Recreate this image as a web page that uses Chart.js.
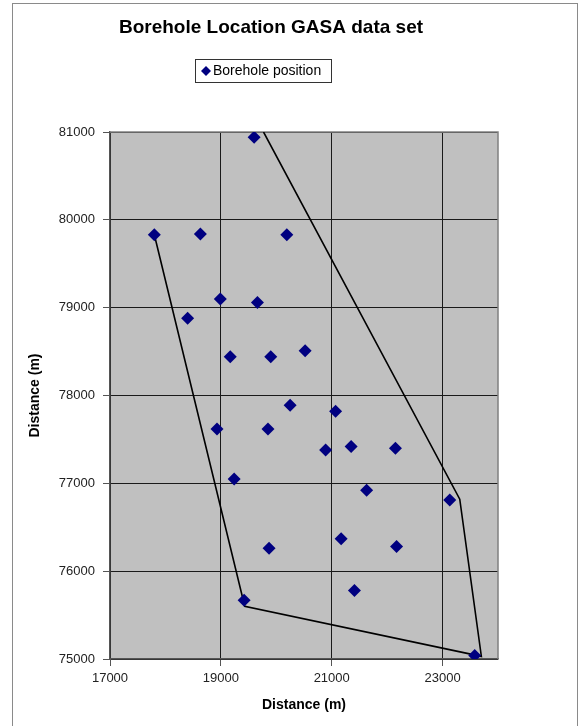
<!DOCTYPE html>
<html>
<head>
<meta charset="utf-8">
<script src="https://cdn.jsdelivr.net/npm/chart.js@4.4.1/dist/chart.umd.min.js"></script>
<style>
  body { margin: 0; background: #fff; }
  #frame { position: absolute; left: 12px; top: 3px; width: 564px; height: 730px; border: 1px solid #8a8a8a; }
  #chart { position: absolute; left: 0; top: 0; }
</style>
</head>
<body>
<div id="frame"><canvas id="chart" width="520" height="722"></canvas></div>
<script>
  // borehole positions (easting / northing, metres)
  const EASTING = [19600, 17800, 18630, 20190, 18990, 19660, 18400, 19170, 19900, 20520,
                   20250, 21070, 18930, 19850, 20890, 21350, 22150, 19240, 21630, 23130,
                   21170, 22170, 19870, 21410, 19420, 23580];
  const NORTHING = [80940, 79830, 79840, 79830, 79100, 79060, 78880, 78440, 78440, 78510,
                    77890, 77820, 77620, 77620, 77380, 77420, 77400, 77050, 76920, 76810,
                    76370, 76280, 76260, 75780, 75670, 75040];

  // outline drawn round the boreholes
  const OUTLINE_X = [19770, 23310, 23700, 19430, 17800];
  const OUTLINE_Y = [81000, 76820, 75030, 75600, 79830];

  const X_TICKS = [17000, 19000, 21000, 23000];
  const CHART_TITLE = "Borehole Location GASA data set";
  const SERIES_NAME = "Borehole position";
  const AXIS_NAME = "Distance (m)";

  Chart.defaults.font.family = '"Liberation Sans", Arial, sans-serif';

  const toPoints = (xs, ys) => xs.map((x, i) => ({ x: x, y: ys[i] }));

  // grey plot area with grey frame on top/right, like the Excel original
  const plotArea = {
    id: "plotArea",
    beforeDraw(chart) {
      const { ctx, chartArea: a } = chart;
      ctx.save();
      ctx.fillStyle = "#c0c0c0";
      ctx.fillRect(a.left, a.top, a.right - a.left, a.bottom - a.top);
      ctx.restore();
    },
    beforeDatasetsDraw(chart) {
      const { ctx, chartArea: a } = chart;
      ctx.save();
      ctx.strokeStyle = "#808080";
      ctx.lineWidth = 1.5;
      ctx.beginPath();
      ctx.moveTo(a.left, a.top);
      ctx.lineTo(a.right, a.top);
      ctx.lineTo(a.right, a.bottom);
      ctx.stroke();
      ctx.restore();
    }
  };

  // title + boxed legend
  const header = {
    id: "header",
    afterDraw(chart) {
      const ctx = chart.ctx;
      ctx.save();
      ctx.fillStyle = "#000";
      ctx.textAlign = "center";
      ctx.textBaseline = "middle";
      ctx.font = 'bold 19px "Liberation Sans", Arial, sans-serif';
      ctx.fillText(CHART_TITLE, 258, 23.5);

      // legend box
      ctx.fillStyle = "#fff";
      ctx.fillRect(182.5, 55.5, 136, 23);
      ctx.strokeStyle = "#333";
      ctx.lineWidth = 1;
      ctx.strokeRect(182.5, 55.5, 136, 23);

      const r = 5;
      ctx.fillStyle = "#000080";
      ctx.beginPath();
      ctx.moveTo(193, 67 - r);
      ctx.lineTo(193 + r, 67);
      ctx.lineTo(193, 67 + r);
      ctx.lineTo(193 - r, 67);
      ctx.closePath();
      ctx.fill();

      ctx.fillStyle = "#000";
      ctx.textAlign = "left";
      ctx.font = '14px "Liberation Sans", Arial, sans-serif';
      ctx.fillText(chart.data.datasets[0].label, 200, 67);
      ctx.restore();
    }
  };

  new Chart(document.getElementById("chart"), {
    type: "scatter",
    data: {
      datasets: [
        {
          label: SERIES_NAME,
          data: toPoints(EASTING, NORTHING),
          pointStyle: "rectRot",
          pointRadius: 6.5,
          pointHoverRadius: 6.5,
          backgroundColor: "#000080",
          borderColor: "#000080",
          borderWidth: 0
        },
        {
          label: "outline",
          data: toPoints(OUTLINE_X, OUTLINE_Y),
          showLine: true,
          pointRadius: 0,
          borderColor: "#000",
          borderWidth: 1.6,
          fill: false
        }
      ]
    },
    options: {
      responsive: false,
      animation: false,
      layout: { padding: { left: 0, right: 35, top: 128, bottom: 8 } },
      plugins: {
        legend: { display: false },
        title: { display: false },
        tooltip: { enabled: false }
      },
      scales: {
        x: {
          type: "linear",
          min: 17000,
          max: 24000,
          afterBuildTicks: (s) => { s.ticks = X_TICKS.map((v) => ({ value: v })); },
          afterFit: (s) => { s.height = 59; },
          ticks: {
            color: "#222",
            font: { size: 13 },
            padding: 5,
            maxRotation: 0,
            autoSkip: false,
            callback: (v) => String(v)
          },
          grid: { color: "#1a1a1a", lineWidth: 1, tickLength: 7, tickColor: "#555" },
          border: { color: "#555", width: 1.5 },
          title: {
            display: true,
            text: AXIS_NAME,
            color: "#000",
            font: { size: 14, weight: "bold" },
            padding: { top: 0, bottom: 4 }
          }
        },
        y: {
          min: 75000,
          max: 81000,
          afterFit: (s) => { s.width = 97; },
          ticks: {
            stepSize: 1000,
            color: "#222",
            font: { size: 13 },
            padding: 8,
            callback: (v) => String(v)
          },
          grid: { color: "#1a1a1a", lineWidth: 1, tickLength: 7, tickColor: "#555" },
          border: { color: "#555", width: 1.5 },
          title: {
            display: true,
            text: AXIS_NAME,
            color: "#000",
            font: { size: 14, weight: "bold" },
            padding: { top: 14, bottom: 0 }
          }
        }
      }
    },
    plugins: [plotArea, header]
  });
</script>
</body>
</html>
